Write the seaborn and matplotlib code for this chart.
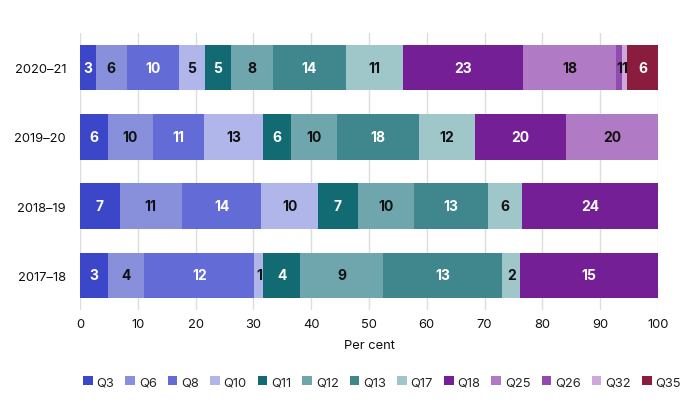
import matplotlib
matplotlib.use("Agg")
import matplotlib.pyplot as plt
import seaborn as sns
import pandas as pd
import numpy as np

years = ["2020–21", "2019–20", "2018–19", "2017–18"]
questions = ["Q3", "Q6", "Q8", "Q10", "Q11", "Q12", "Q13", "Q17", "Q18", "Q25", "Q26", "Q32", "Q35"]
counts_2020_21 = [3, 6, 10, 5, 5, 8, 14, 11, 23, 18, 1, 1, 6]
counts_2019_20 = [6, 10, 11, 13, 6, 10, 18, 12, 20, 20, 0, 0, 0]
counts_2018_19 = [7, 11, 14, 10, 7, 10, 13, 6, 24, 0, 0, 0, 0]
counts_2017_18 = [3, 4, 12, 1, 4, 9, 13, 2, 15, 0, 0, 0, 0]

colors = ["#3C46C9", "#8890DC", "#636BD6", "#B0B5EA", "#126B72", "#6FA5AD",
          "#3F878D", "#9FC6C9", "#741F96", "#B07AC5", "#9249B0", "#CCA8DB", "#8A1C3E"]
white_text = {"Q3", "Q8", "Q11", "Q13", "Q18", "Q35"}

rows = []
for y, cs in zip(years, [counts_2020_21, counts_2019_20, counts_2018_19, counts_2017_18]):
    tot = sum(cs)
    for q, c in zip(questions, cs):
        rows.append({"year": y, "question": q, "count": c, "pct": c / tot * 100})
df = pd.DataFrame(rows)

sns.set_theme(style="white")
plt.rcParams["font.family"] = ["Inter", "DejaVu Sans"]

fig = plt.figure(figsize=(6.89, 4.10), dpi=100)
ax = fig.add_axes([80/689, 1 - 311/410, (658 - 80)/689, (311 - 34)/410])

left = pd.Series(0.0, index=years)
for q, col in zip(questions, colors):
    sub = df[df["question"] == q].set_index("year").loc[years]
    ax.barh(years, sub["pct"].values, left=left.values, height=0.66, color=col,
            edgecolor="none", label=q, zorder=3)
    for y, p, c, l in zip(years, sub["pct"].values, sub["count"].values, left.values):
        if c > 0:
            ax.text(l + p / 2, y, str(c), ha="center", va="center", fontsize=10,
                    fontweight="bold", color="white" if q in white_text else "#111111",
                    zorder=4)
    left = left + sub["pct"].values

ax.set_xlim(0, 100)
ax.set_ylim(3.5, -0.5)
ax.set_xticks(np.arange(0, 101, 10))
ax.grid(axis="x", color="#dddddd", linewidth=1, zorder=0)
ax.grid(axis="y", visible=False)
for s in ax.spines.values():
    s.set_visible(False)
ax.tick_params(axis="both", length=0, labelsize=9.3, colors="#111111")
ax.tick_params(axis="x", pad=6)
ax.tick_params(axis="y", pad=10)
ax.set_xlabel("Per cent", fontsize=9.3, color="#111111", labelpad=6)
ax.set_ylabel("")

leg = fig.legend(loc="center", bbox_to_anchor=(382/689, 1 - 383/410), ncol=13,
                 frameon=False, fontsize=9.3, handlelength=0.75, handleheight=0.75,
                 handletextpad=0.3, columnspacing=0.85)
fig.savefig("out.png", dpi=100)
